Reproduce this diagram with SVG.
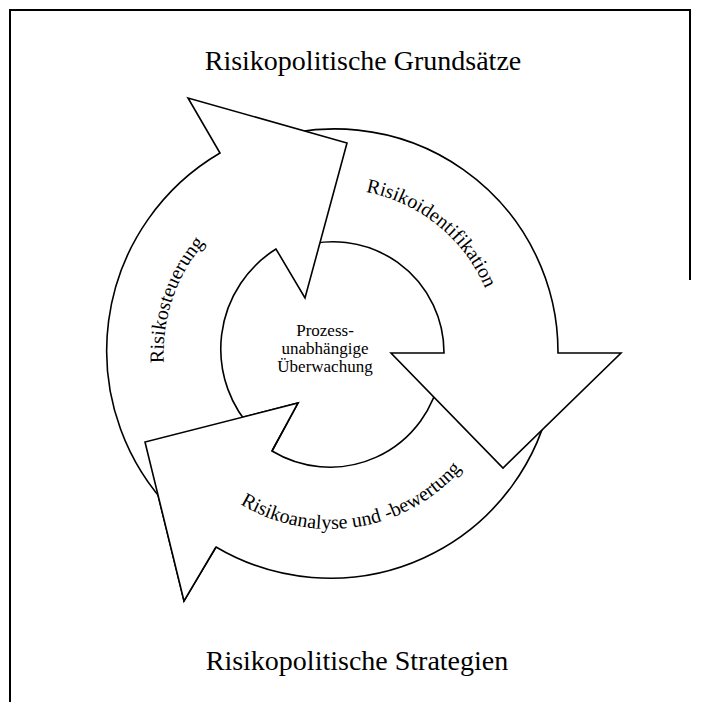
<svg xmlns="http://www.w3.org/2000/svg" width="701" height="702" viewBox="0 0 701 702">
<style>
.frame{fill:none;stroke:#000;stroke-width:2}
.arrow{fill:#fff;stroke:#000;stroke-width:1.6;stroke-linejoin:miter}
.line{fill:none;stroke:#000;stroke-width:1.6;stroke-linejoin:miter}
.title{font-family:"Liberation Serif","Times New Roman",serif;font-size:28px;fill:#000;text-anchor:middle}
.lbl{font-family:"Liberation Serif","Times New Roman",serif;font-size:20px;fill:#000;text-anchor:middle}
.ctr{font-family:"Liberation Serif","Times New Roman",serif;font-size:17px;fill:#000;text-anchor:middle}
</style>
<defs>
<path id="p1" d="M 176.3,416.6 A 168 168 0 0 1 246.9,207.7"/>
<path id="p2" d="M 332.2,189 A 163 163 0 0 1 495,320.9"/>
<path id="p3" d="M 194.8,464.5 A 174 174 0 0 0 492.4,417.4"/>
</defs>
<rect width="701" height="702" fill="#fff"/>
<g id="frame">
<path class="frame" d="M 10,702 L 10,10 L 690,10 L 690,280"/>
</g>
<g id="title-top"><text class="title" x="363" y="70">Risikopolitische Grundsätze</text></g>
<g id="title-bottom"><text class="title" x="357" y="670">Risikopolitische Strategien</text></g>
<g id="connectors"/>
<g id="arrow-risikoanalyse">
<path class="arrow" d="M 551.6,394 A 225 225 0 0 1 216,547 L 184,601 L 145,442 L 298,403 L 272,451 A 112 112 0 0 0 440.3,374.4 Z"/>
<text class="lbl"><textPath href="#p3" startOffset="50%">Risikoanalyse und -bewertung</textPath></text>
</g>
<g id="arrow-risikoidentifikation">
<path class="arrow" d="M 258.7,142.4 A 223 223 0 0 1 558,353 L 621,353 L 503,468 L 391,353 L 444,353 A 111 111 0 0 0 297,247.7 Z"/>
<text class="lbl"><textPath href="#p2" startOffset="50%">Risikoidentifikation</textPath></text>
</g>
<g id="arrow-risikosteuerung">
<path class="arrow" d="M 173.1,511.9 A 229 229 0 0 1 220,153 L 188,98 L 347,143 L 305,298 L 276,249 A 118 118 0 0 0 254,431 Z"/>
<text class="lbl"><textPath href="#p1" startOffset="50%">Risikosteuerung</textPath></text>
</g>
<g id="arrow-risikoanalyse-head">
<polygon points="145,442 298,403 184,601" fill="#fff" stroke="none"/>
<path class="line" d="M 216,547 L 184,601 L 145,442 L 298,403 L 272,451"/>
</g>
<g id="center-node">
<text class="ctr" x="325" y="336">Prozess-</text>
<text class="ctr" x="325" y="354">unabhängige</text>
<text class="ctr" x="325" y="372">Überwachung</text>
</g>
</svg>
